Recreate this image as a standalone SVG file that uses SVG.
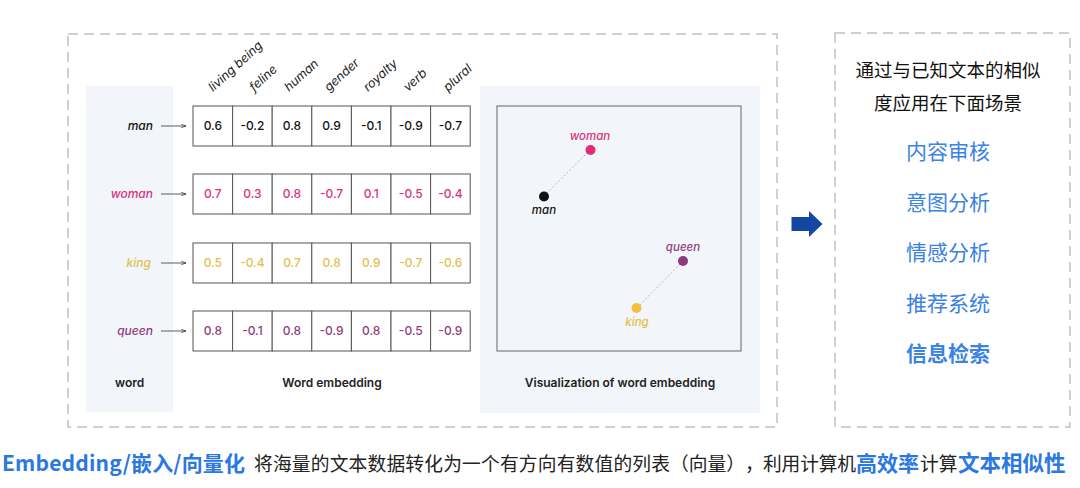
<svg xmlns="http://www.w3.org/2000/svg" width="1080" height="488" viewBox="0 0 1080 488">
<defs>
<style>
.dash{fill:none;stroke:#cfcfcf;stroke-width:2;stroke-dasharray:10 6}
.en{font-family:Inter,"Noto Sans","Liberation Sans",sans-serif}
.lbl{font-size:12px;font-style:italic;font-weight:500;text-anchor:end}
.hdr{font-size:12.5px;font-style:italic;fill:#222}
.cell{fill:#fff;stroke:#555;stroke-width:1}
.val{font-size:12px;font-weight:500;text-anchor:middle}
.cap{font-size:12px;font-weight:600;fill:#222}
.cn{font-family:"Noto Sans CJK SC","Noto Sans",sans-serif}
.blue{fill:#3a82e4}
.man{fill:#111}.woman{fill:#d9327f}.king{fill:#e2c04e}.queen{fill:#8e3d7e}
.conn{stroke:#333;stroke-width:0.8;fill:none}
</style>
<marker id="ah" viewBox="0 0 6 6" refX="6" refY="3" markerWidth="6" markerHeight="6" orient="auto"><path d="M0,0.8 L6,3 L0,5.2" fill="none" stroke="context-stroke" stroke-width="0.9"/></marker>
</defs>
<rect width="1080" height="488" fill="#fff"/>
<g id="left-panel">
<rect class="dash" x="68" y="34" width="709" height="393"/>
<rect x="86" y="86" width="87" height="326" fill="#f2f5f9"/>
<rect x="480" y="86" width="280" height="327" fill="#f2f5f9"/>
</g>
<g id="headers" class="en hdr">
<text transform="translate(213,92) rotate(-42)">living being</text>
<text transform="translate(254,92) rotate(-42)">feline</text>
<text transform="translate(289,92) rotate(-42)">human</text>
<text transform="translate(329,92) rotate(-42)">gender</text>
<text transform="translate(368,92) rotate(-42)">royalty</text>
<text transform="translate(408,92) rotate(-42)">verb</text>
<text transform="translate(448,92) rotate(-42)">plural</text>
</g>
<g id="row-man">
<text class="en lbl man" x="153" y="130">man</text>
<g class="cell"><rect x="193" y="106" width="39.6" height="40"/><rect x="232.6" y="106" width="39.6" height="40"/><rect x="272.2" y="106" width="39.6" height="40"/><rect x="311.8" y="106" width="39.6" height="40"/><rect x="351.4" y="106" width="39.6" height="40"/><rect x="391" y="106" width="39.6" height="40"/><rect x="430.6" y="106" width="39.6" height="40"/></g>
<g class="en val man"><text x="212.8" y="130">0.6</text><text x="252.4" y="130">-0.2</text><text x="292" y="130">0.8</text><text x="331.6" y="130">0.9</text><text x="371.2" y="130">-0.1</text><text x="410.8" y="130">-0.9</text><text x="450.4" y="130">-0.7</text></g>
</g>
<g id="row-woman">
<text class="en lbl woman" x="153" y="198">woman</text>
<g class="cell"><rect x="193" y="174" width="39.6" height="40"/><rect x="232.6" y="174" width="39.6" height="40"/><rect x="272.2" y="174" width="39.6" height="40"/><rect x="311.8" y="174" width="39.6" height="40"/><rect x="351.4" y="174" width="39.6" height="40"/><rect x="391" y="174" width="39.6" height="40"/><rect x="430.6" y="174" width="39.6" height="40"/></g>
<g class="en val woman"><text x="212.8" y="198">0.7</text><text x="252.4" y="198">0.3</text><text x="292" y="198">0.8</text><text x="331.6" y="198">-0.7</text><text x="371.2" y="198">0.1</text><text x="410.8" y="198">-0.5</text><text x="450.4" y="198">-0.4</text></g>
</g>
<g id="row-king">
<text class="en lbl king" x="151" y="267">king</text>
<g class="cell"><rect x="193" y="243" width="39.6" height="40"/><rect x="232.6" y="243" width="39.6" height="40"/><rect x="272.2" y="243" width="39.6" height="40"/><rect x="311.8" y="243" width="39.6" height="40"/><rect x="351.4" y="243" width="39.6" height="40"/><rect x="391" y="243" width="39.6" height="40"/><rect x="430.6" y="243" width="39.6" height="40"/></g>
<g class="en val king"><text x="212.8" y="267">0.5</text><text x="252.4" y="267">-0.4</text><text x="292" y="267">0.7</text><text x="331.6" y="267">0.8</text><text x="371.2" y="267">0.9</text><text x="410.8" y="267">-0.7</text><text x="450.4" y="267">-0.6</text></g>
</g>
<g id="row-queen">
<text class="en lbl queen" x="153" y="335">queen</text>
<g class="cell"><rect x="193" y="311" width="39.6" height="40"/><rect x="232.6" y="311" width="39.6" height="40"/><rect x="272.2" y="311" width="39.6" height="40"/><rect x="311.8" y="311" width="39.6" height="40"/><rect x="351.4" y="311" width="39.6" height="40"/><rect x="391" y="311" width="39.6" height="40"/><rect x="430.6" y="311" width="39.6" height="40"/></g>
<g class="en val queen"><text x="212.8" y="335">0.8</text><text x="252.4" y="335">-0.1</text><text x="292" y="335">0.8</text><text x="331.6" y="335">-0.9</text><text x="371.2" y="335">0.8</text><text x="410.8" y="335">-0.5</text><text x="450.4" y="335">-0.9</text></g>
</g>
<g id="captions" class="en cap">
<text x="115" y="387">word</text>
<text x="332" y="387" text-anchor="middle">Word embedding</text>
<text x="620" y="387" text-anchor="middle">Visualization of word embedding</text>
</g>
<g id="viz">
<rect x="497" y="106" width="244" height="245" fill="none" stroke="#666" stroke-width="1"/>
<line x1="544" y1="196" x2="590" y2="150" stroke="#bbb" stroke-width="1" stroke-dasharray="2 2"/>
<line x1="637" y1="308" x2="683" y2="261" stroke="#bbb" stroke-width="1" stroke-dasharray="2 2"/>
<circle cx="590.5" cy="150" r="5" fill="#e8287c"/>
<circle cx="544" cy="196.5" r="5" fill="#111"/>
<circle cx="683" cy="261" r="5" fill="#8c3b7b"/>
<circle cx="636.5" cy="308" r="5" fill="#f0c03e"/>
<g class="en" font-size="11.5" font-style="italic" font-weight="500" text-anchor="middle">
<text class="woman" x="590" y="140">woman</text>
<text class="man" x="544" y="214">man</text>
<text class="queen" x="683" y="251">queen</text>
<text class="king" x="637" y="326">king</text>
</g>
</g>
<g id="connectors">
<line class="conn" x1="161" y1="126" x2="186" y2="126" marker-end="url(#ah)"/>
<line class="conn" x1="161" y1="194" x2="186" y2="194" stroke="#d9327f" marker-end="url(#ah)"/>
<line class="conn" x1="161" y1="263" x2="186" y2="263" stroke="#e2c04e" marker-end="url(#ah)"/>
<line class="conn" x1="161" y1="331" x2="186" y2="331" stroke="#8e3d7e" marker-end="url(#ah)"/>
<path d="M791.5,217 H809 V211 L822.5,224 L809,237 V231 H791.5 Z" fill="#1447a3"/>
</g>
<g id="right-panel">
<rect class="dash" x="835" y="33" width="235" height="394"/>
<g class="cn" text-anchor="middle">
<text x="948" y="77" font-size="18.5" fill="#111">通过与已知文本的相似</text>
<text x="948" y="110" font-size="18.5" fill="#111">度应用在下面场景</text>
<text class="blue" x="948" y="159" font-size="21">内容审核</text>
<text class="blue" x="948" y="210" font-size="21">意图分析</text>
<text class="blue" x="948" y="260" font-size="21">情感分析</text>
<text class="blue" x="948" y="311" font-size="21">推荐系统</text>
<text class="blue" x="948" y="361" font-size="21" font-weight="bold">信息检索</text>
</g>
</g>
<g id="bottom-text" class="cn">
<text x="2" y="471" font-size="21" font-weight="bold" fill="#2a78e0" textLength="243">Embedding/嵌入/向量化</text>
<text y="471" font-size="18.75" fill="#222"><tspan x="254" textLength="416">将海量的文本数据转化为一个有方向有数值的列表</tspan><tspan x="670" textLength="75">（向量）</tspan><tspan x="745">，</tspan><tspan x="763" textLength="93">利用计算机</tspan></text>
<text x="856" y="471" font-size="21" font-weight="bold" fill="#2a78e0">高效率</text>
<text x="920" y="471" font-size="18.75" fill="#222">计算</text>
<text x="958" y="471" font-size="21.5" font-weight="bold" fill="#2a78e0">文本相似性</text>
</g>
</svg>
